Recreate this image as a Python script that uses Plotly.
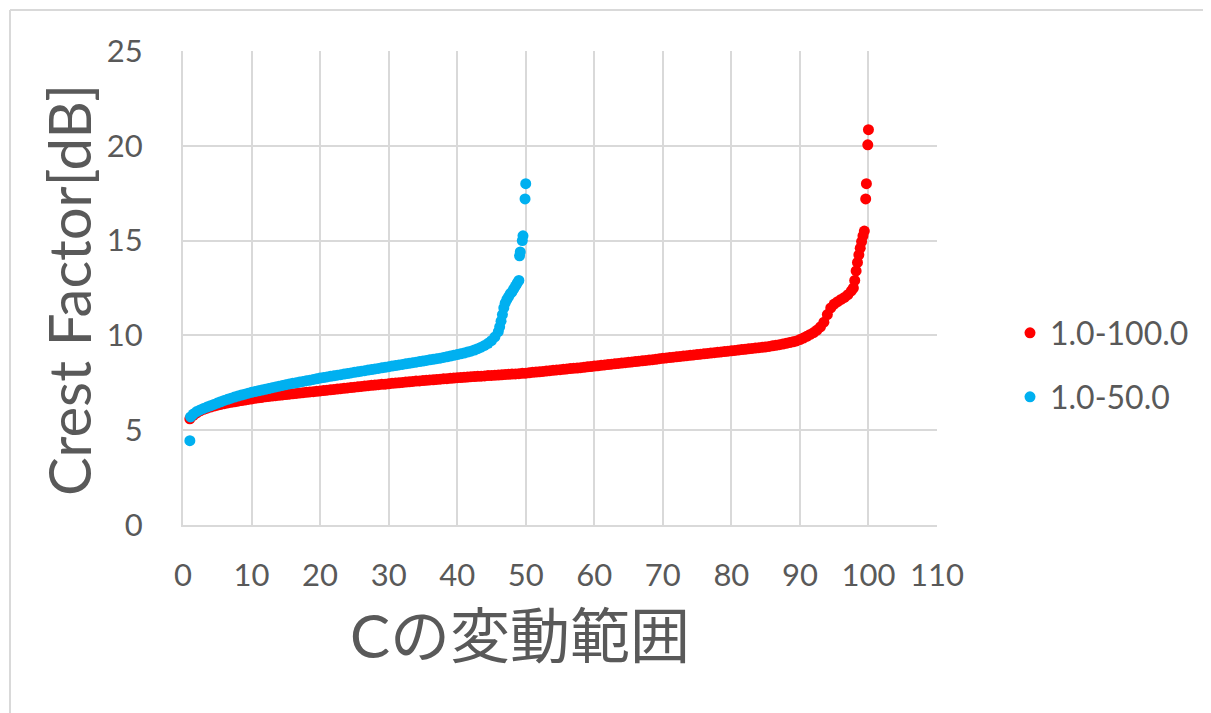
import plotly.graph_objects as go

# ---------------- data ----------------
# series "1.0-100.0": C sampled every 0.5 from 1.0 to 97.5, plus the steep tail
red_start, red_step = 1.0, 0.5
red_y = [
    5.6, 5.78, 5.92, 6.02, 6.1, 6.16, 6.22, 6.27, 6.32, 6.36,
    6.4, 6.44, 6.47, 6.5, 6.53, 6.56, 6.59, 6.62, 6.65, 6.68,
    6.71, 6.73, 6.76, 6.78, 6.8, 6.82, 6.84, 6.86, 6.88, 6.9,
    6.92, 6.94, 6.96, 6.98, 7.0, 7.02, 7.03, 7.05, 7.07, 7.09,
    7.11, 7.13, 7.15, 7.17, 7.19, 7.21, 7.23, 7.25, 7.27, 7.29,
    7.31, 7.33, 7.35, 7.37, 7.38, 7.4, 7.42, 7.43, 7.45, 7.47,
    7.49, 7.5, 7.52, 7.54, 7.55, 7.57, 7.59, 7.6, 7.62, 7.63,
    7.65, 7.66, 7.68, 7.69, 7.71, 7.72, 7.74, 7.75, 7.77, 7.78,
    7.79, 7.8, 7.82, 7.83, 7.84, 7.85, 7.86, 7.88, 7.89, 7.9,
    7.91, 7.92, 7.94, 7.95, 7.96, 7.97, 7.98, 8.0, 8.01, 8.03,
    8.05, 8.07, 8.08, 8.1, 8.12, 8.14, 8.16, 8.18, 8.19, 8.21,
    8.23, 8.25, 8.27, 8.28, 8.3, 8.32, 8.34, 8.36, 8.38, 8.4,
    8.42, 8.44, 8.46, 8.48, 8.5, 8.52, 8.54, 8.56, 8.58, 8.6,
    8.62, 8.64, 8.66, 8.68, 8.7, 8.72, 8.74, 8.77, 8.79, 8.81,
    8.83, 8.85, 8.87, 8.89, 8.91, 8.93, 8.95, 8.97, 8.99, 9.01,
    9.03, 9.05, 9.07, 9.09, 9.11, 9.13, 9.15, 9.17, 9.19, 9.21,
    9.23, 9.25, 9.27, 9.29, 9.31, 9.33, 9.35, 9.37, 9.39, 9.42,
    9.45, 9.48, 9.51, 9.54, 9.58, 9.62, 9.66, 9.71, 9.78, 9.86,
    9.95, 10.05, 10.15, 10.28, 10.45, 10.7, 11.1, 11.45, 11.65, 11.78,
    11.9, 12.0, 12.15, 12.35,
]
red_tail_x = [97.8, 98.0, 98.2, 98.4, 98.6, 98.8, 99.0, 99.2, 99.4, 99.6, 99.7, 99.9, 100.0]
red_tail_y = [12.5, 12.9, 13.4, 13.85, 14.25, 14.6, 14.95, 15.25, 15.5, 17.2, 18.0, 20.05, 20.85]

# series "1.0-50.0": first points, C every 0.5 from 1.5 to 46.0, then the steep tail
blue_head_x = [1.0, 1.1]
blue_head_y = [4.45, 5.7]
blue_start, blue_step = 1.5, 0.5
blue_y = [
    5.85, 5.98, 6.07, 6.15, 6.22, 6.29, 6.36, 6.43,
    6.5, 6.57, 6.63, 6.69, 6.75, 6.8, 6.85, 6.9, 6.95, 7.0,
    7.04, 7.08, 7.12, 7.16, 7.2, 7.24, 7.28, 7.32, 7.36, 7.4,
    7.44, 7.47, 7.5, 7.54, 7.57, 7.61, 7.64, 7.68, 7.71, 7.75,
    7.78, 7.81, 7.84, 7.87, 7.9, 7.93, 7.96, 7.99, 8.02, 8.05,
    8.08, 8.11, 8.14, 8.17, 8.2, 8.23, 8.26, 8.29, 8.32, 8.35,
    8.38, 8.41, 8.44, 8.47, 8.5, 8.53, 8.56, 8.59, 8.62, 8.65,
    8.68, 8.71, 8.74, 8.77, 8.8, 8.84, 8.87, 8.91, 8.95, 8.99,
    9.03, 9.07, 9.12, 9.17, 9.23, 9.3, 9.38, 9.47, 9.58, 9.72,
    9.92, 10.2,
]
blue_tail_x = [46.2, 46.4, 46.6, 46.8, 47.0, 47.25, 47.5, 47.75, 48.0, 48.25,
               48.5, 48.75, 49.0, 49.1, 49.2, 49.5, 49.6, 49.9, 50.0]
blue_tail_y = [10.45, 10.75, 11.1, 11.45, 11.7, 11.9, 12.05, 12.2, 12.3, 12.45,
               12.6, 12.75, 12.9, 14.2, 14.4, 15.0, 15.25, 17.2, 18.0]

series_names = ["1.0-100.0", "1.0-50.0"]
x_ticks = [0, 10, 20, 30, 40, 50, 60, 70, 80, 90, 100, 110]
y_ticks = [0, 5, 10, 15, 20, 25]
x_title = "Cの変動範囲"
y_title = "Crest Factor[dB]"

# ---------------- build ----------------
red_x = [red_start + red_step * i for i in range(len(red_y))] + red_tail_x
red_all_y = red_y + red_tail_y
blue_x = blue_head_x + [blue_start + blue_step * i for i in range(len(blue_y))] + blue_tail_x
blue_all_y = blue_head_y + blue_y + blue_tail_y

RED = "#FF0000"
BLUE = "#00B0F0"
TXT = "#595959"
GRID = "#D9D9D9"
FONT = "Lato, 'Noto Sans CJK JP', sans-serif"

# page body has an 8px default margin, so the figure is laid out 8px smaller
W, H = 1203, 705
L, T = 175, 43
PW, PH = 754, 474
R, B = W - L - PW, H - T - PH

# helpers in reference-page pixel coordinates (plot area: x 183..937, y 51..525)
def px(xp):
    return (xp - 183) / PW


def py(yp):
    return (525 - yp) / PH


fig = go.Figure()
fig.add_trace(go.Scatter(
    x=red_x, y=red_all_y, mode="markers", name=series_names[0],
    marker=dict(color=RED, size=11, line=dict(width=0)), legend="legend",
))
fig.add_trace(go.Scatter(
    x=blue_x, y=blue_all_y, mode="markers", name=series_names[1],
    marker=dict(color=BLUE, size=11, line=dict(width=0)), legend="legend2",
))

fig.update_layout(
    width=W, height=H,
    margin=dict(l=L, r=R, t=T, b=B, pad=0),
    paper_bgcolor="white", plot_bgcolor="white",
    font=dict(family=FONT, color=TXT, size=31),
    showlegend=True,
    legend=dict(x=px(1010), y=py(333), xanchor="left", yanchor="middle",
                font=dict(size=32, color=TXT), bgcolor="rgba(0,0,0,0)"),
    legend2=dict(x=px(1010), y=py(397), xanchor="left", yanchor="middle",
                 font=dict(size=32, color=TXT), bgcolor="rgba(0,0,0,0)"),
    xaxis=dict(range=[0, 110], tickvals=x_ticks, showgrid=True, gridcolor=GRID,
               gridwidth=2, showline=True, linecolor=GRID, linewidth=2,
               zeroline=False, ticks="", ticklabelstandoff=22,
               tickfont=dict(size=31, color=TXT)),
    yaxis=dict(range=[0, 25], tickvals=y_ticks, showgrid=True, gridcolor=GRID,
               gridwidth=2, showline=True, linecolor=GRID, linewidth=2,
               zeroline=False, ticks="", ticklabelstandoff=32,
               tickfont=dict(size=31, color=TXT)),
    annotations=[
        dict(text=y_title, x=px(68), y=py(290), xref="paper", yref="paper",
             textangle=-90, showarrow=False, xanchor="center", yanchor="middle",
             font=dict(size=58, color=TXT)),
        dict(text=x_title, x=px(520), y=py(635), xref="paper", yref="paper",
             showarrow=False, xanchor="center", yanchor="middle",
             font=dict(size=60, color=TXT)),
    ],
    shapes=[
        dict(type="line", xref="paper", yref="paper", x0=px(10), x1=px(10),
             y0=py(10), y1=py(720), line=dict(color=GRID, width=2)),
        dict(type="line", xref="paper", yref="paper", x0=px(10), x1=px(1220),
             y0=py(10), y1=py(10), line=dict(color=GRID, width=2)),
    ],
)

fig.write_html("out.html")
